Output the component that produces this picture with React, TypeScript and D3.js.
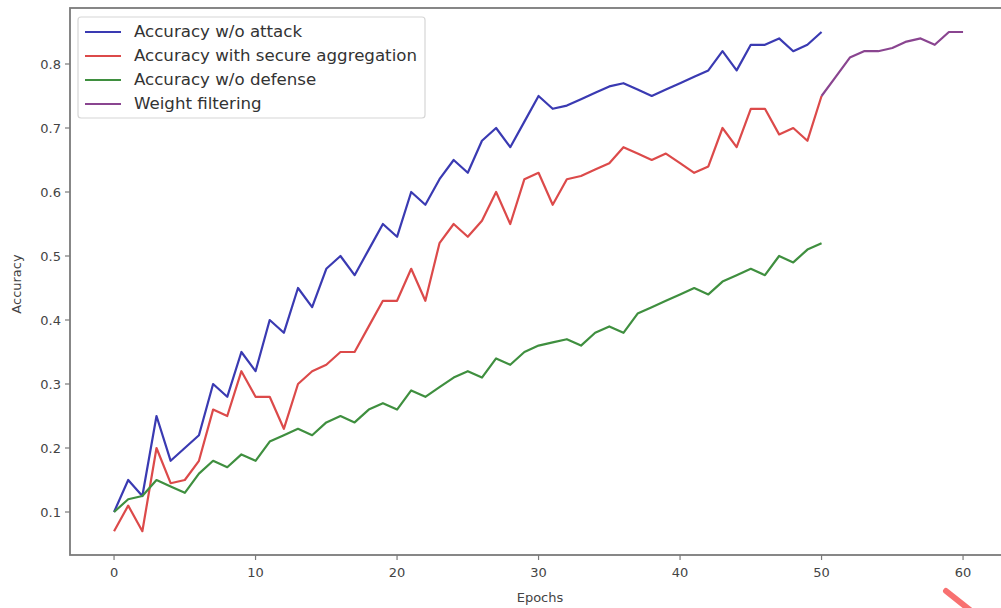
import React from "react";
import * as d3 from "d3";

const epochs = d3.range(0, 51);
const blue = [0.10,0.15,0.125,0.25,0.18,0.20,0.22,0.30,0.28,0.35,
  0.32,0.40,0.38,0.45,0.42,0.48,0.50,0.47,0.51,0.55,
  0.53,0.60,0.58,0.62,0.65,0.63,0.68,0.70,0.67,0.71,
  0.75,0.73,0.735,0.745,0.755,0.765,0.77,0.76,0.75,0.76,
  0.77,0.78,0.79,0.82,0.79,0.83,0.83,0.84,0.82,0.83,0.85];
const red = [0.07,0.11,0.07,0.20,0.145,0.15,0.18,0.26,0.25,0.32,
  0.28,0.28,0.23,0.30,0.32,0.33,0.35,0.35,0.39,0.43,
  0.43,0.48,0.43,0.52,0.55,0.53,0.555,0.60,0.55,0.62,
  0.63,0.58,0.62,0.625,0.635,0.645,0.67,0.66,0.65,0.66,
  0.645,0.63,0.64,0.70,0.67,0.73,0.73,0.69,0.70,0.68,0.75];
const green = [0.10,0.12,0.125,0.15,0.14,0.13,0.16,0.18,0.17,0.19,
  0.18,0.21,0.22,0.23,0.22,0.24,0.25,0.24,0.26,0.27,
  0.26,0.29,0.28,0.295,0.31,0.32,0.31,0.34,0.33,0.35,
  0.36,0.365,0.37,0.36,0.38,0.39,0.38,0.41,0.42,0.43,
  0.44,0.45,0.44,0.46,0.47,0.48,0.47,0.50,0.49,0.51,0.52];
const purpleEpochs = [50,51,52,53,54,55,56,57,58,59,60];
const purple = [0.75,0.78,0.81,0.82,0.82,0.825,0.835,0.84,0.83,0.85,0.85];

const xTicks = [0,10,20,30,40,50,60];
const yTicks = [0.1,0.2,0.3,0.4,0.5,0.6,0.7,0.8];
const seriesNames = ["Accuracy w/o attack","Accuracy with secure aggregation","Accuracy w/o defense","Weight filtering"];
const colors = ["#3a3ab2","#dc4a4a","#3f8f3f","#8a4590"];

export default function App() {
  const W = 1001, H = 608;
  const x = d3.scaleLinear().domain([-3, 63]).range([71.6, 1005.5]);
  const y = d3.scaleLinear().domain([0.1, 0.8]).range([512, 64]);
  const left = 70, top = 8, bottom = 555, right = 1005;
  const line = d3.line<[number, number]>().x(d => x(d[0])).y(d => y(d[1]));
  const mk = (xs: number[], ys: number[]) => xs.map((e, i) => [e, ys[i]] as [number, number]);
  const series = [mk(epochs, blue), mk(epochs, red), mk(epochs, green), mk(purpleEpochs, purple)];
  const font = "DejaVu Sans, sans-serif";
  return (
    <svg width={W} height={H} style={{ position: "absolute", left: 0, top: 0, background: "#fff" }}>
      <rect x={0} y={0} width={W} height={H} fill="#fff" />
      <g>
        {series.map((s, i) => (
          <path key={i} d={line(s) || ""} fill="none" stroke={colors[i]} strokeWidth={2.2} strokeLinejoin="round" />
        ))}
      </g>
      <rect x={left} y={top} width={right - left} height={bottom - top} fill="none" stroke="#7a7a7a" strokeWidth={1.8} />
      {yTicks.map(t => (
        <g key={t}>
          <line x1={left - 5} x2={left} y1={y(t)} y2={y(t)} stroke="#7a7a7a" strokeWidth={1.2} />
          <text x={left - 9} y={y(t)} dy="0.35em" textAnchor="end" fontFamily={font} fontSize={13} fill="#444">{t.toFixed(1)}</text>
        </g>
      ))}
      {xTicks.map(t => (
        <g key={t}>
          <line x1={x(t)} x2={x(t)} y1={bottom} y2={bottom + 5} stroke="#7a7a7a" strokeWidth={1.2} />
          <text x={x(t)} y={bottom + 22} textAnchor="middle" fontFamily={font} fontSize={13} fill="#444">{t}</text>
        </g>
      ))}
      <text x={540} y={602} textAnchor="middle" fontFamily={font} fontSize={13} fill="#444">Epochs</text>
      <text transform={`translate(21,284) rotate(-90)`} textAnchor="middle" fontFamily={font} fontSize={13} fill="#444">Accuracy</text>
      <g>
        <rect x={78} y={17} width={347} height={101} rx={3} fill="#fff" fillOpacity={0.85} stroke="#d6d6d6" strokeWidth={1.2} />
        {seriesNames.map((n, i) => (
          <g key={n}>
            <line x1={85} x2={121} y1={32 + i * 24} y2={32 + i * 24} stroke={colors[i]} strokeWidth={2.2} />
            <text transform={`translate(134,${32 + i * 24}) scale(1.11,1)`} dy="0.35em" fontFamily={font} fontSize={15} fill="#333">{n}</text>
          </g>
        ))}
      </g>
      <line x1={946} y1={591} x2={970} y2={610} stroke="#f87171" strokeWidth={6} strokeLinecap="round" />
    </svg>
  );
}
